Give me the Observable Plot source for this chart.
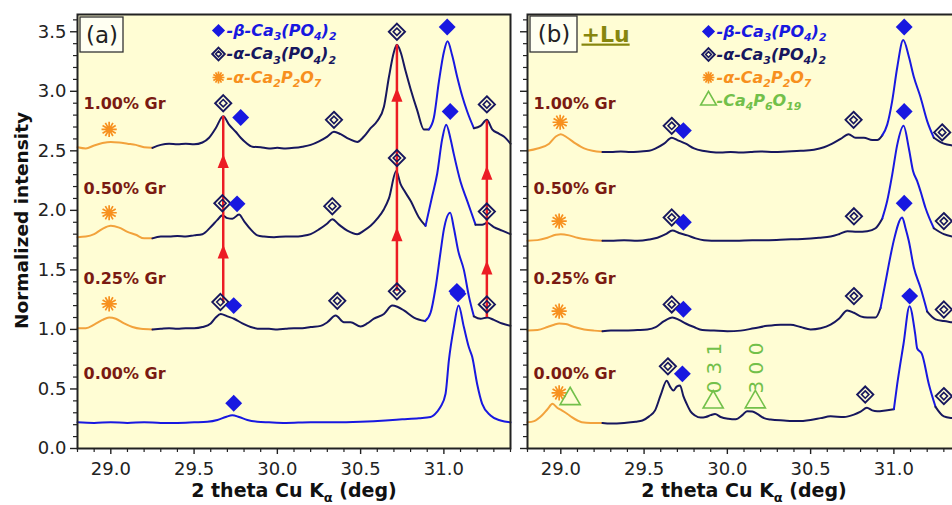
<!DOCTYPE html>
<html><head><meta charset="utf-8">
<script src="https://cdn.jsdelivr.net/npm/d3@7"></script>
<script src="https://cdn.jsdelivr.net/npm/@observablehq/plot@0.6"></script>
<style>
html,body{margin:0;padding:0;background:#fff;overflow:hidden;width:952px;height:505px}
#wrap{position:relative;width:952px;height:505px;overflow:hidden}
#wrap svg{position:absolute;top:0}
</style></head><body><div id="wrap"></div>
<script>
// ---------- data ----------
const xDomain = [28.8, 31.4];
const yDomain = [0, 3.645];
const xMajor = [29.0, 29.5, 30.0, 30.5, 31.0];
const yMajor = [0, 0.5, 1.0, 1.5, 2.0, 2.5, 3.0, 3.5];
const grLabels = ["1.00% Gr", "0.50% Gr", "0.25% Gr", "0.00% Gr"];

// panel (a) patterns: [2theta, normalized intensity]
const A100 = [[28.80,2.53],[28.85,2.52],[28.90,2.545],[28.95,2.565],[29.00,2.575],[29.05,2.57],[29.10,2.56],[29.15,2.55],[29.20,2.53],[29.25,2.525],[29.30,2.55],[29.35,2.56],[29.40,2.555],[29.45,2.56],[29.50,2.555],[29.55,2.57],[29.59,2.61],[29.63,2.69],[29.675,2.79],[29.71,2.72],[29.75,2.66],[29.78,2.61],[29.81,2.57],[29.85,2.535],[29.90,2.53],[29.95,2.52],[30.00,2.525],[30.05,2.52],[30.10,2.525],[30.15,2.535],[30.20,2.55],[30.25,2.58],[30.30,2.62],[30.34,2.66],[30.38,2.64],[30.43,2.60],[30.48,2.575],[30.52,2.62],[30.56,2.69],[30.60,2.75],[30.64,2.87],[30.67,3.12],[30.70,3.33],[30.718,3.39],[30.74,3.33],[30.77,3.17],[30.80,3.02],[30.84,2.84],[30.88,2.68],[30.91,2.68],[30.94,2.78],[30.97,3.08],[31.00,3.33],[31.022,3.42],[31.05,3.30],[31.08,3.12],[31.11,2.96],[31.14,2.83],[31.18,2.69],[31.22,2.71],[31.258,2.76],[31.29,2.68],[31.33,2.645],[31.36,2.62],[31.40,2.56]];
const A050 = [[28.80,1.775],[28.85,1.78],[28.90,1.80],[28.95,1.845],[29.00,1.87],[29.05,1.855],[29.10,1.82],[29.15,1.795],[29.20,1.765],[29.25,1.765],[29.30,1.78],[29.35,1.78],[29.40,1.785],[29.45,1.78],[29.50,1.79],[29.55,1.80],[29.60,1.86],[29.64,1.92],[29.67,1.96],[29.70,1.935],[29.73,1.93],[29.77,1.965],[29.80,1.91],[29.84,1.84],[29.88,1.79],[29.92,1.78],[29.98,1.775],[30.05,1.78],[30.10,1.78],[30.15,1.785],[30.20,1.80],[30.25,1.84],[30.30,1.89],[30.33,1.925],[30.37,1.88],[30.42,1.83],[30.48,1.80],[30.52,1.83],[30.56,1.87],[30.60,1.93],[30.64,2.01],[30.67,2.10],[30.714,2.33],[30.74,2.22],[30.76,2.17],[30.80,2.08],[30.85,1.94],[30.89,1.87],[30.93,2.12],[30.96,2.31],[30.99,2.60],[31.014,2.72],[31.04,2.60],[31.06,2.47],[31.10,2.24],[31.14,2.08],[31.19,1.88],[31.23,1.88],[31.26,1.895],[31.30,1.86],[31.35,1.83],[31.40,1.80]];
const A025 = [[28.80,1.01],[28.85,1.01],[28.90,1.04],[28.95,1.08],[28.99,1.10],[29.03,1.09],[29.08,1.05],[29.13,1.02],[29.18,1.005],[29.25,1.00],[29.30,1.005],[29.35,1.01],[29.40,1.005],[29.45,1.01],[29.50,1.01],[29.55,1.02],[29.60,1.05],[29.63,1.10],[29.66,1.13],[29.70,1.11],[29.74,1.09],[29.79,1.05],[29.84,1.02],[29.90,1.005],[29.95,1.005],[30.00,1.00],[30.05,1.005],[30.10,1.01],[30.15,1.01],[30.20,1.02],[30.26,1.03],[30.30,1.06],[30.35,1.117],[30.40,1.06],[30.44,1.06],[30.50,1.024],[30.54,1.05],[30.58,1.09],[30.64,1.13],[30.69,1.20],[30.72,1.19],[30.76,1.16],[30.82,1.10],[30.887,1.07],[30.92,1.14],[30.95,1.35],[30.98,1.65],[31.00,1.84],[31.038,1.98],[31.06,1.85],[31.086,1.66],[31.12,1.50],[31.15,1.28],[31.18,1.11],[31.22,1.09],[31.26,1.10],[31.30,1.08],[31.35,1.05],[31.40,1.03]];
const A000 = [[28.80,0.22],[28.90,0.215],[29.00,0.22],[29.10,0.215],[29.20,0.22],[29.30,0.215],[29.40,0.215],[29.50,0.22],[29.58,0.225],[29.64,0.24],[29.69,0.265],[29.73,0.28],[29.77,0.265],[29.82,0.24],[29.88,0.225],[29.95,0.22],[30.05,0.215],[30.20,0.22],[30.35,0.22],[30.50,0.225],[30.65,0.235],[30.75,0.245],[30.85,0.255],[30.92,0.265],[30.96,0.31],[30.98,0.35],[31.01,0.46],[31.03,0.74],[31.06,1.02],[31.088,1.20],[31.12,1.02],[31.15,0.85],[31.17,0.77],[31.20,0.54],[31.23,0.375],[31.28,0.277],[31.34,0.235],[31.40,0.22]];

// panel (b) patterns (+Lu)
const B100 = [[28.80,2.50],[28.86,2.52],[28.93,2.56],[28.97,2.62],[29.00,2.64],[29.04,2.61],[29.09,2.56],[29.14,2.52],[29.19,2.50],[29.25,2.49],[29.30,2.49],[29.36,2.495],[29.42,2.49],[29.48,2.495],[29.53,2.50],[29.57,2.52],[29.62,2.56],[29.666,2.61],[29.70,2.59],[29.75,2.56],[29.80,2.52],[29.85,2.50],[29.90,2.49],[29.96,2.485],[30.02,2.49],[30.08,2.485],[30.14,2.49],[30.20,2.495],[30.28,2.49],[30.36,2.495],[30.44,2.50],[30.52,2.51],[30.58,2.53],[30.63,2.56],[30.68,2.60],[30.728,2.64],[30.77,2.61],[30.82,2.61],[30.87,2.59],[30.90,2.59],[30.93,2.63],[30.96,2.72],[30.99,2.92],[31.02,3.20],[31.056,3.43],[31.09,3.29],[31.12,3.12],[31.16,2.95],[31.20,2.75],[31.24,2.61],[31.30,2.56],[31.35,2.545],[31.40,2.54]];
const B050 = [[28.80,1.745],[28.86,1.75],[28.92,1.77],[28.97,1.795],[29.00,1.80],[29.05,1.79],[29.10,1.77],[29.16,1.755],[29.25,1.745],[29.30,1.745],[29.38,1.75],[29.46,1.745],[29.53,1.755],[29.58,1.77],[29.63,1.80],[29.67,1.83],[29.71,1.81],[29.76,1.79],[29.81,1.765],[29.86,1.75],[29.95,1.745],[30.05,1.745],[30.15,1.75],[30.25,1.75],[30.35,1.755],[30.45,1.76],[30.55,1.77],[30.62,1.78],[30.67,1.80],[30.72,1.825],[30.78,1.82],[30.84,1.825],[30.89,1.85],[30.93,1.93],[30.96,2.08],[30.99,2.30],[31.02,2.55],[31.058,2.71],[31.09,2.52],[31.115,2.33],[31.14,2.245],[31.16,2.16],[31.19,2.02],[31.24,1.85],[31.30,1.80],[31.35,1.78],[31.40,1.77]];
const B025 = [[28.80,0.99],[28.86,0.995],[28.92,1.02],[28.96,1.04],[28.99,1.05],[29.03,1.045],[29.08,1.02],[29.14,1.00],[29.20,0.99],[29.25,0.985],[29.30,0.99],[29.38,0.99],[29.46,0.995],[29.52,1.00],[29.57,1.02],[29.62,1.07],[29.67,1.10],[29.71,1.08],[29.75,1.05],[29.80,1.02],[29.85,0.995],[29.92,0.99],[30.00,0.985],[30.08,0.99],[30.16,1.01],[30.24,1.03],[30.32,1.04],[30.38,1.04],[30.44,1.02],[30.50,1.00],[30.56,1.01],[30.62,1.04],[30.67,1.09],[30.72,1.16],[30.76,1.14],[30.80,1.11],[30.84,1.10],[30.89,1.10],[30.92,1.18],[30.95,1.40],[30.98,1.62],[31.00,1.75],[31.05,1.94],[31.07,1.85],[31.09,1.74],[31.12,1.52],[31.16,1.35],[31.20,1.15],[31.25,1.085],[31.30,1.07],[31.35,1.06],[31.40,1.05]];
const B000 = [[28.80,0.22],[28.84,0.23],[28.886,0.277],[28.92,0.33],[28.95,0.375],[28.98,0.34],[29.006,0.32],[29.04,0.29],[29.066,0.263],[29.10,0.235],[29.126,0.22],[29.18,0.215],[29.25,0.215],[29.30,0.21],[29.38,0.215],[29.45,0.225],[29.49,0.235],[29.53,0.27],[29.566,0.32],[29.60,0.45],[29.636,0.57],[29.656,0.52],[29.676,0.487],[29.696,0.52],[29.716,0.53],[29.736,0.44],[29.756,0.375],[29.78,0.31],[29.806,0.277],[29.84,0.26],[29.87,0.265],[29.90,0.28],[29.926,0.29],[29.96,0.265],[30.006,0.25],[30.05,0.245],[30.09,0.28],[30.118,0.313],[30.15,0.31],[30.18,0.29],[30.22,0.255],[30.26,0.243],[30.34,0.235],[30.42,0.23],[30.50,0.24],[30.56,0.255],[30.62,0.27],[30.70,0.265],[30.76,0.285],[30.80,0.31],[30.838,0.342],[30.87,0.32],[30.90,0.313],[30.95,0.32],[31.00,0.33],[31.02,0.54],[31.058,0.88],[31.094,1.195],[31.128,0.96],[31.14,0.84],[31.168,0.795],[31.21,0.54],[31.25,0.35],[31.30,0.27],[31.35,0.255],[31.40,0.25]];

// phase markers: b = beta-Ca3(PO4)2, a = alpha-Ca3(PO4)2, s = alpha-Ca2P2O7, t = Ca4P6O19
const markersA = [
  {p:"s",x:28.99,y:2.68},{p:"a",x:29.675,y:2.90},{p:"b",x:29.78,y:2.78},{p:"a",x:30.34,y:2.76},{p:"a",x:30.718,y:3.50},{p:"b",x:31.02,y:3.54},{p:"a",x:31.258,y:2.89},
  {p:"s",x:28.99,y:1.98},{p:"a",x:29.67,y:2.06},{p:"b",x:29.758,y:2.055},{p:"a",x:30.33,y:2.035},{p:"a",x:30.718,y:2.44},{p:"b",x:31.038,y:2.83},{p:"a",x:31.258,y:1.99},
  {p:"s",x:28.99,y:1.215},{p:"a",x:29.658,y:1.23},{p:"b",x:29.738,y:1.20},{p:"a",x:30.36,y:1.24},{p:"a",x:30.718,y:1.32},{p:"b",x:31.078,y:1.32},{p:"a",x:31.258,y:1.21},
  {p:"b",x:29.738,y:0.38},{p:"b",x:31.085,y:1.30}
];
const markersB = [
  {p:"s",x:28.996,y:2.74},{p:"a",x:29.666,y:2.71},{p:"b",x:29.736,y:2.67},{p:"a",x:30.758,y:2.76},{p:"b",x:31.062,y:3.54},{p:"a",x:31.29,y:2.655},
  {p:"s",x:28.99,y:1.91},{p:"a",x:29.666,y:1.94},{p:"b",x:29.736,y:1.90},{p:"a",x:30.76,y:1.95},{p:"b",x:31.062,y:2.83},{p:"a",x:31.30,y:1.91},
  {p:"s",x:28.99,y:1.153},{p:"a",x:29.666,y:1.21},{p:"b",x:29.736,y:1.17},{p:"a",x:30.76,y:1.28},{p:"b",x:31.062,y:2.06},{p:"a",x:31.30,y:1.167},
  {p:"s",x:28.99,y:0.467},{p:"a",x:29.643,y:0.69},{p:"b",x:29.73,y:0.627},{p:"a",x:30.828,y:0.453},{p:"b",x:31.095,y:1.28},{p:"a",x:31.30,y:0.44}
];
const trianglesB = [{x:29.056,y:0.417,hkl:""},{x:29.915,y:0.389,hkl:"0 3 1"},{x:30.168,y:0.39,hkl:"3 0 0"}];

// red arrows (panel a)
const arrows = [{x:29.675,y1:1.22,y2:2.79},{x:30.718,y1:1.32,y2:3.39},{x:31.258,y1:1.10,y2:2.75}];
const arrowHeads = [{x:29.675,y:2.415},{x:29.675,y:1.655},{x:30.718,y:2.97},{x:30.718,y:1.80},{x:31.258,y:2.315},{x:31.258,y:1.52}];

const legendA = [
  {p:"b", label:"-β-Ca_3(PO_4)_2"},
  {p:"a", label:"-α-Ca_3(PO_4)_2"},
  {p:"s", label:"-α-Ca_2P_2O_7"}
];
const legendB = legendA.concat([{p:"t", label:"-Ca_4P_6O_19"}]);

// ---------- styles ----------
const FONT = "'DejaVu Sans', 'Liberation Sans', sans-serif";
const BG = "#fffdd4";
const NAVY = "#17175e";
const BLUE = "#1818e0";
const ORANGE_L = "#f2a23c";
const ORANGE_M = "#f7901e";
const RED = "#ec1c24";
const DARKRED = "#7a1a12";
const GREEN = "#72c04a";
const OLIVE = "#86860e";
const phaseColor = {b: BLUE, a: NAVY, s: ORANGE_M, t: GREEN};

const STAR = {draw(ctx, size) {
  const r = Math.sqrt(size / Math.PI);
  for (let k = 0; k < 6; k++) {
    const a = k * Math.PI / 6;
    ctx.moveTo(r * Math.cos(a), r * Math.sin(a));
    ctx.lineTo(-r * Math.cos(a), -r * Math.sin(a));
  }
  const c = r * 0.28;
  ctx.moveTo(c, 0); ctx.arc(0, 0, c, 0, 2 * Math.PI);
}};
const HEAD = {draw(ctx, size) {
  const r = Math.sqrt(size / Math.PI);
  ctx.moveTo(0, -r); ctx.lineTo(0.8 * r, r); ctx.lineTo(-0.8 * r, r); ctx.closePath();
}};

// split each pattern into colour segments
function segRows(pts, id, rule) {
  const rows = []; let seg = -1, cur = null;
  for (let i = 0; i < pts.length - 1; i++) {
    const m = (pts[i][0] + pts[i + 1][0]) / 2;
    const c = rule(m);
    if (c !== cur) { seg++; cur = c; rows.push({x: pts[i][0], y: pts[i][1], z: id + seg, c}); }
    rows.push({x: pts[i + 1][0], y: pts[i + 1][1], z: id + seg, c});
  }
  return rows;
}
const rule = (b0, b1, orange = true) => x =>
  (orange && x < 29.25) ? ORANGE_L : (x > b0 && x < b1 ? BLUE : NAVY);

const rowsA = [].concat(
  segRows(A100, "a100-", rule(30.91, 31.19)),
  segRows(A050, "a050-", rule(30.89, 31.20)),
  segRows(A025, "a025-", rule(30.90, 31.20)),
  segRows(A000, "a000-", () => BLUE)
);
const rowsB = [].concat(
  segRows(B100, "b100-", rule(30.92, 31.24)),
  segRows(B050, "b050-", rule(30.92, 31.24)),
  segRows(B025, "b025-", rule(30.92, 31.22)),
  segRows(B000, "b000-", rule(31.00, 31.25))
);

function phaseMarks(data, p, pos, small) {
  const k = small ? 0.78 : 1;
  if (p === "b") return [Plot.dot(data, {...pos, symbol: "diamond2", r: 7.6 * k, fill: BLUE})];
  if (p === "a") return [
    Plot.dot(data, {...pos, symbol: "diamond2", r: 7.3 * k, fill: "none", stroke: NAVY, strokeWidth: 1.9}),
    Plot.dot(data, {...pos, symbol: "diamond2", r: 3.3 * k, fill: "none", stroke: NAVY, strokeWidth: 1.6})
  ];
  if (p === "s") return [Plot.dot(data, {...pos, symbol: STAR, r: 7.6 * k, fill: ORANGE_M, stroke: ORANGE_M, strokeWidth: 1.7})];
  if (p === "t") return [Plot.dot(data, {...pos, symbol: "triangle2", r: 9.6 * k, fill: "none", stroke: GREEN, strokeWidth: 1.6})];
  return [];
}
function markerMarks(markers) {
  return ["a", "b", "s"].flatMap(p => phaseMarks(markers.filter(d => d.p === p), p, {x: "x", y: "y"}, false));
}
function legendMarks(items, dx, dy0, step) {
  return items.flatMap((d, i) => [
    ...phaseMarks([d], d.p, {frameAnchor: "top-left", dx, dy: dy0 + i * step}, true),
    Plot.text([d.label], {frameAnchor: "top-left", dx: dx + 8, dy: dy0 + i * step, textAnchor: "start",
      lineAnchor: "middle", fontSize: 16, fontWeight: "bold", fontStyle: "italic", fill: phaseColor[d.p]})
  ]);
}
function boxMark(x0, y0, w, h) {
  return (index, scales, values, dims) => {
    const r = document.createElementNS("http://www.w3.org/2000/svg", "rect");
    r.setAttribute("x", dims.marginLeft + x0); r.setAttribute("y", dims.marginTop + y0);
    r.setAttribute("width", w); r.setAttribute("height", h);
    r.setAttribute("fill", "#fffff2"); r.setAttribute("stroke", "#333"); r.setAttribute("stroke-width", 1.3);
    return r;
  };
}
const grDy = [89, 174, 264, 359];
function commonMarks(rows, markers, showYLabels) {
  const xMinor = d3.range(0, 27).map(i => +(28.8 + i * 0.1).toFixed(1));
  const yMinor = d3.range(0, 37).map(i => +(i * 0.1).toFixed(1));
  return [
    Plot.frame({fill: BG, stroke: null}),
    Plot.line(rows, {x: "x", y: "y", z: "z", stroke: "c", strokeWidth: 2, curve: "monotone-x"}),
    ...markerMarks(markers),
    ...grLabels.map((t, i) => Plot.text([t], {frameAnchor: "top-left", dx: 6, dy: grDy[i], textAnchor: "start",
      lineAnchor: "middle", fontSize: 16, fontWeight: "bold", fill: DARKRED})),
    Plot.text(["2 theta Cu K_α (deg)"], {frameAnchor: "bottom", dy: 42, textAnchor: "middle", lineAnchor: "middle", fontSize: 19, fontWeight: "bold", fill: "#111"}),
    Plot.frame({stroke: "#222", strokeWidth: 2}),
    Plot.axisY(yMajor, {tickSize: 7, tickPadding: 4, fontSize: 18, label: null, strokeWidth: 1.4,
      tickFormat: showYLabels ? d3.format(".1f") : () => ""}),
    Plot.axisY(yMinor.filter(v => !yMajor.includes(v)), {tickSize: 4, label: null, strokeWidth: 1.2, tickFormat: () => ""}),
    Plot.axisX(xMajor, {tickSize: 6, tickPadding: 8, fontSize: 18, label: null, strokeWidth: 1.4, tickFormat: d3.format(".1f")}),
    Plot.axisX(xMinor.filter(v => !xMajor.includes(v)), {tickSize: 4, label: null, strokeWidth: 1.2, tickFormat: () => ""})
  ];
}
const base = {
  width: 512, height: 505,
  marginLeft: 77, marginRight: 2, marginTop: 14, marginBottom: 57,
  x: {domain: xDomain, axis: null},
  y: {domain: yDomain, axis: null},
  color: {type: "identity"},
  style: {background: "transparent", overflow: "visible", fontFamily: FONT, maxWidth: "none", color: "#222", fontSize: "18px"}
};

const plotA = Plot.plot({...base, marks: [
  ...commonMarks(rowsA, markersA, true).slice(0, 2),
  Plot.ruleX(arrows, {x: "x", y1: "y1", y2: "y2", stroke: RED, strokeWidth: 2.5}),
  Plot.dot(arrowHeads, {x: "x", y: "y", symbol: HEAD, r: 7, fill: RED}),
  ...commonMarks(rowsA, markersA, true).slice(2),
  ...legendMarks(legendA, 141, 16, 23.5),
  boxMark(3, 3, 43, 35),
  Plot.text(["(a)"], {frameAnchor: "top-left", dx: 24.5, dy: 21, textAnchor: "middle", lineAnchor: "middle", fontSize: 23, fill: "#222"}),
  Plot.text(["Normalized intensity"], {frameAnchor: "left", dx: -55, dy: -11, rotate: -90, textAnchor: "middle", fontSize: 18.5, fontWeight: "bold", fill: "#111"})
]});

const plotB = Plot.plot({...base, marks: [
  ...commonMarks(rowsB, markersB, false),
  ...phaseMarks(trianglesB, "t", {x: "x", y: "y"}, false),
  Plot.text(trianglesB.filter(d => d.hkl), {x: "x", y: "y", text: "hkl", rotate: -90, dx: 1, dy: -34, fontSize: 20, fill: GREEN}),
  ...legendMarks(legendB, 181, 17, 23),
  boxMark(3, 2, 47, 36),
  Plot.text(["(b)"], {frameAnchor: "top-left", dx: 26.5, dy: 20, textAnchor: "middle", lineAnchor: "middle", fontSize: 23, fill: "#222"}),
  Plot.text(["+Lu"], {frameAnchor: "top-left", dx: 54, dy: 20, textAnchor: "start", lineAnchor: "middle", fontSize: 22, fontWeight: "bold", fill: OLIVE})
]});

const wrap = document.getElementById("wrap");
plotA.style.left = "0px";
plotB.style.left = "450px";
wrap.appendChild(plotA);
wrap.appendChild(plotB);

// subscripts and underline as real SVG text
function fixText(svg) {
  svg.querySelectorAll("text").forEach(t => {
    const s = t.textContent;
    if (s === "+Lu") { t.style.textDecoration = "underline"; return; }
    if (!s.includes("_")) return;
    const fs = parseFloat(getComputedStyle(t).fontSize) || 16;
    const parts = s.split(/_(\d+|α)/);
    t.textContent = "";
    let shifted = false;
    parts.forEach((p, i) => {
      if (!p) return;
      const ts = document.createElementNS("http://www.w3.org/2000/svg", "tspan");
      ts.textContent = p;
      if (i % 2 === 1) {
        ts.setAttribute("font-size", (fs * 0.68).toFixed(1));
        if (!shifted) { ts.setAttribute("dy", (fs * 0.3).toFixed(1)); shifted = true; }
      } else if (shifted) {
        ts.setAttribute("dy", (-fs * 0.3).toFixed(1)); shifted = false;
      }
      t.appendChild(ts);
    });
  });
}
fixText(plotA); fixText(plotB);
</script></body></html>
